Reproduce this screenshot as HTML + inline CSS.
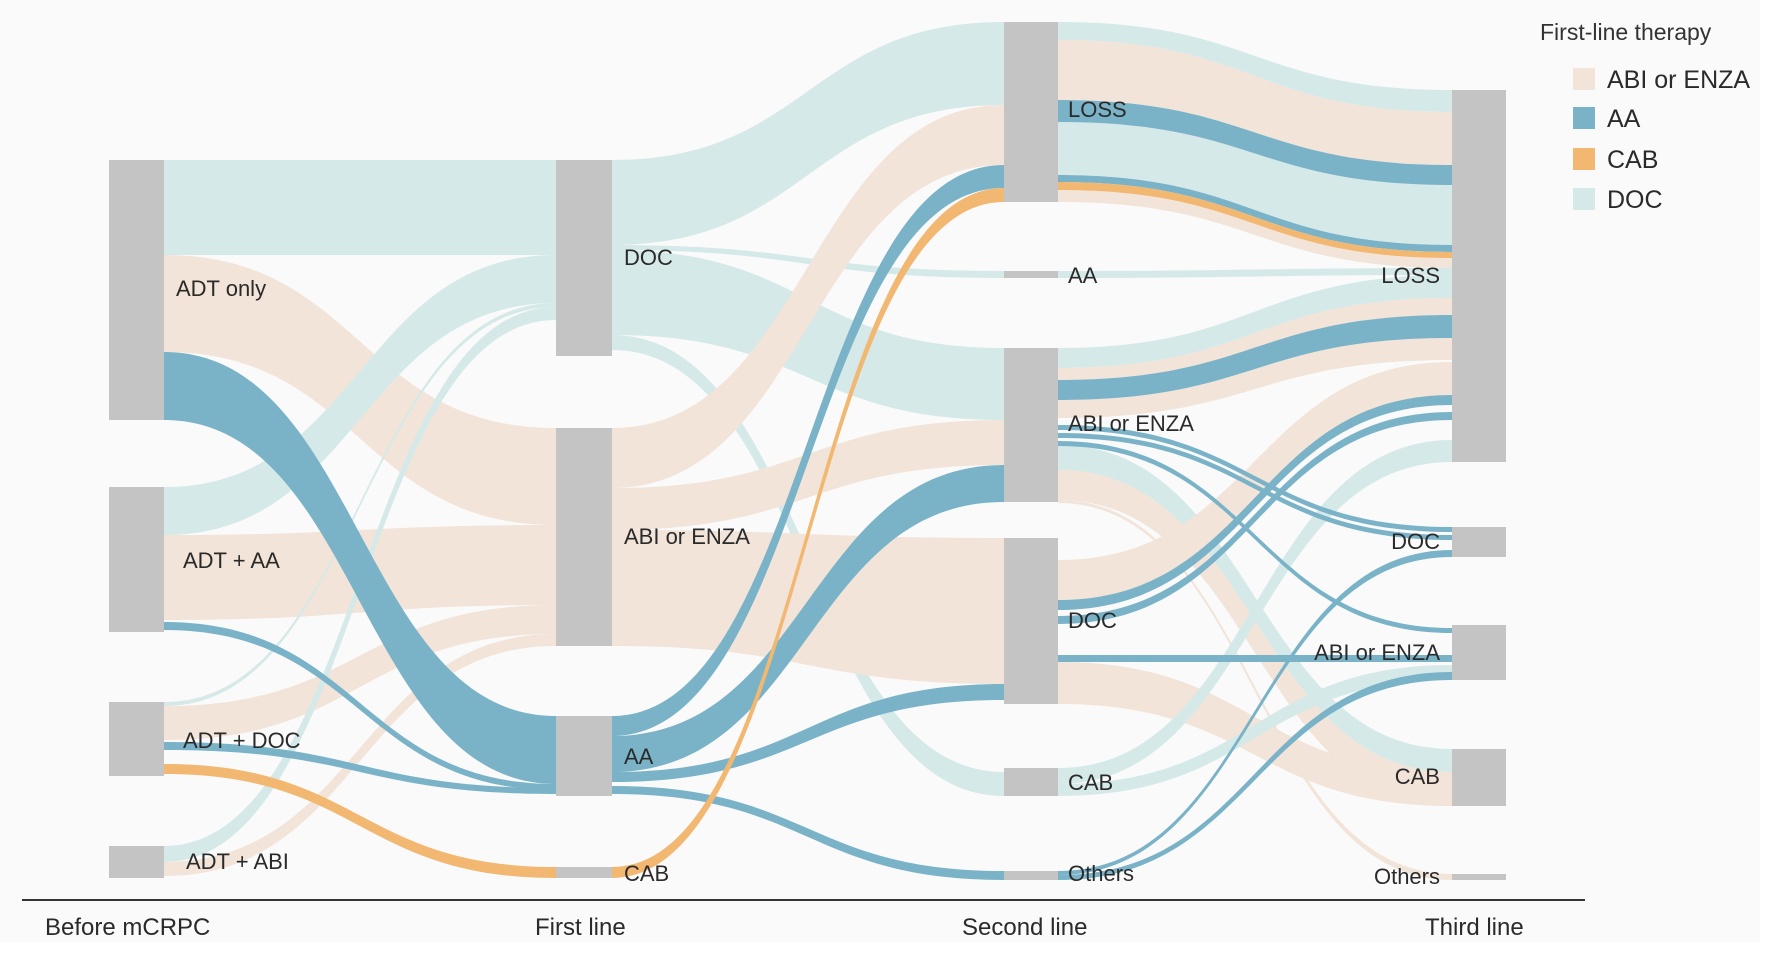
<!DOCTYPE html>
<html><head><meta charset="utf-8">
<style>
html,body{margin:0;padding:0;background:#fff;}
svg{display:block;font-family:"Liberation Sans",Arial,sans-serif;}
</style></head><body>
<svg id="s" width="1772" height="955" viewBox="0 0 1772 955" xmlns="http://www.w3.org/2000/svg">
<rect x="0" y="0" width="1760" height="942" fill="#fafafa"/>
<g id="flows"></g>
<g fill="#c4c4c4">
<rect x="109" y="160" width="55" height="260"/>
<rect x="109" y="487" width="55" height="145"/>
<rect x="109" y="702" width="55" height="74"/>
<rect x="109" y="846" width="55" height="32"/>
<rect x="556" y="160" width="56" height="196"/>
<rect x="556" y="428" width="56" height="218"/>
<rect x="556" y="716" width="56" height="80"/>
<rect x="556" y="867" width="56" height="11"/>
<rect x="1004" y="22" width="54" height="180"/>
<rect x="1004" y="271" width="54" height="7"/>
<rect x="1004" y="348" width="54" height="154"/>
<rect x="1004" y="538" width="54" height="166"/>
<rect x="1004" y="768" width="54" height="28"/>
<rect x="1004" y="871" width="54" height="9"/>
<rect x="1452" y="90" width="54" height="372"/>
<rect x="1452" y="527" width="54" height="30"/>
<rect x="1452" y="625" width="54" height="55"/>
<rect x="1452" y="749" width="54" height="57"/>
<rect x="1452" y="874" width="54" height="6"/>
</g>
<g fill="#2a2a2a" font-size="22">
<text x="176" y="296">ADT only</text>
<text x="183" y="568">ADT + AA</text>
<text x="183" y="748">ADT + DOC</text>
<text x="186" y="869">ADT + ABI</text>
<text x="624" y="265">DOC</text>
<text x="624" y="544">ABI or ENZA</text>
<text x="624" y="764">AA</text>
<text x="624" y="881">CAB</text>
<text x="1068" y="117">LOSS</text>
<text x="1068" y="283">AA</text>
<text x="1068" y="431">ABI or ENZA</text>
<text x="1068" y="628">DOC</text>
<text x="1068" y="790">CAB</text>
<text x="1068" y="881">Others</text>
<g text-anchor="end">
<text x="1440" y="283">LOSS</text>
<text x="1440" y="549">DOC</text>
<text x="1440" y="660">ABI or ENZA</text>
<text x="1440" y="784">CAB</text>
<text x="1440" y="884">Others</text>
</g>
</g>
<line x1="22" y1="900" x2="1585" y2="900" stroke="#333" stroke-width="2"/>
<g fill="#2a2a2a" font-size="24">
<text x="45" y="935">Before mCRPC</text>
<text x="535" y="935">First line</text>
<text x="962" y="935">Second line</text>
<text x="1425" y="935">Third line</text>
</g>
<text x="1540" y="40" font-size="23" fill="#333">First-line therapy</text>
<rect x="1573" y="68" width="22" height="22" fill="#f2e4d8"/>
<rect x="1573" y="107" width="22" height="22" fill="#7ab3c8"/>
<rect x="1573" y="148" width="22" height="22" fill="#f2b872"/>
<rect x="1573" y="188" width="22" height="22" fill="#d5e9e9"/>
<g font-size="25" fill="#2a2a2a">
<text x="1607" y="88">ABI or ENZA</text>
<text x="1607" y="127">AA</text>
<text x="1607" y="168">CAB</text>
<text x="1607" y="208">DOC</text>
</g>
</svg>
<script>
var T="#d5e9e9",B="#f2e4d8",A="#7ab3c8",O="#f2b872";
var c=[164,556,612,1004,1058,1452];
// [color, x0, t0, b0, x1, t1, b1]
var F=[
[T,0,160,255,1,160,255],[B,0,255,352,1,428,525],[T,0,487,535,1,255,303],[B,0,535,620,1,525,605],
[T,0,702,706,1,303,307],[B,0,706,740,1,605,634],[T,0,846,862,1,307,320],[B,0,862,876,1,634,646],
[A,0,352,420,1,716,784],[A,0,622,630,1,784,790],[A,0,742,750,1,788,794],[O,0,764,774,1,867,878],
[T,2,160,245,3,22,105],[T,2,245,250,3,271,278],[T,2,250,335,3,348,420],[T,2,335,350,3,772,796],
[B,2,428,488,3,105,165],[B,2,488,530,3,420,465],[B,2,530,646,3,538,684],
[T,4,22,40,5,90,112],[B,4,40,100,5,112,165],[T,4,122,175,5,185,245],[B,4,190,202,5,258,268],
[T,4,271,278,5,268,275],[T,4,348,368,5,275,298],[B,4,368,380,5,298,315],[B,4,400,418,5,338,360],
[T,4,445,470,5,749,772],[B,4,470,500,5,772,806],[B,4,500,503,5,874,880],
[B,4,560,600,5,362,395],[B,4,662,704,5,772,806],[T,4,768,784,5,440,462],[T,4,784,796,5,665,680],
[A,2,716,736,3,165,188],[A,2,736,772,3,465,502],[A,2,772,782,3,684,700],[A,2,786,794,3,871,880],
[O,2,867,878,3,188,202],
[A,4,100,122,5,165,185],[A,4,175,182,5,245,252],[O,4,182,190,5,252,258],
[A,4,380,400,5,315,338],[A,4,425,430,5,527,532],[A,4,433,438,5,535,540],[A,4,441,446,5,628,633],
[A,4,600,610,5,395,405],[A,4,616,624,5,412,420],[A,4,655,662,5,655,662],
[A,4,871,875,5,550,557],[A,4,875,880,5,672,680]
];
var g=document.getElementById("flows"),h="";
F.forEach(function(f){var x0=c[f[1]],x1=c[f[4]],m=(x0+x1)/2;
h+='<path fill="'+f[0]+'" d="M'+x0+' '+f[2]+'C'+m+' '+f[2]+' '+m+' '+f[5]+' '+x1+' '+f[5]+'L'+x1+' '+f[6]+'C'+m+' '+f[6]+' '+m+' '+f[3]+' '+x0+' '+f[3]+'Z"/>';});
g.innerHTML=h;
</script>
</body></html>
